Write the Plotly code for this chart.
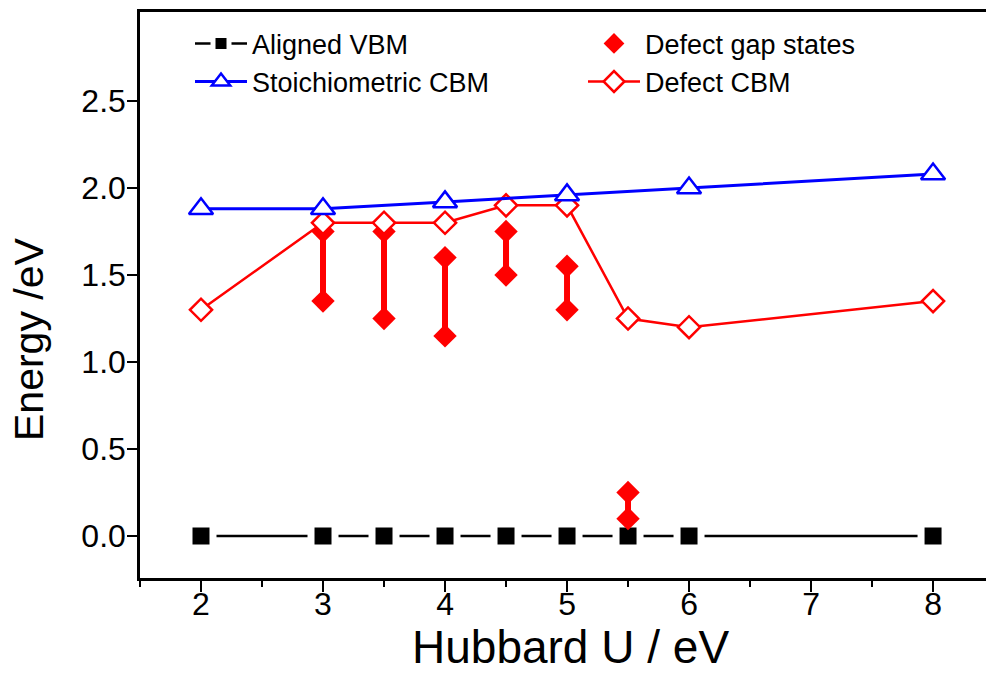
import plotly.graph_objects as go

# ---- data ----
vbm_x = [2, 3, 3.5, 4, 4.5, 5, 5.5, 6, 8]
vbm_y = [0, 0, 0, 0, 0, 0, 0, 0, 0]

stoich_x = [2, 3, 4, 5, 6, 8]
stoich_y = [1.88, 1.88, 1.92, 1.96, 2.0, 2.08]

dcbm_x = [2, 3, 3.5, 4, 4.5, 5, 5.5, 6, 8]
dcbm_y = [1.30, 1.80, 1.80, 1.80, 1.90, 1.90, 1.25, 1.20, 1.35]

gap_x = [3, 3.5, 4, 4.5, 5, 5.5]
gap_top = [1.75, 1.75, 1.60, 1.75, 1.55, 0.25]
gap_bottom = [1.35, 1.25, 1.15, 1.50, 1.30, 0.10]

x_ticks = [2, 3, 4, 5, 6, 7, 8]
y_ticks = [0.0, 0.5, 1.0, 1.5, 2.0, 2.5]

FONT = "Liberation Sans, Arial, sans-serif"

# bars connecting gap-state pairs
bar_x, bar_y = [], []
for xv, t, b in zip(gap_x, gap_top, gap_bottom):
    bar_x += [xv, xv, None]
    bar_y += [t, b, None]

gap_mx = gap_x + gap_x
gap_my = gap_top + gap_bottom

fig = go.Figure()

fig.add_trace(go.Scatter(
    x=vbm_x, y=vbm_y, mode="lines+markers", name="Aligned VBM",
    line=dict(color="black", width=2.5),
    marker=dict(symbol="square", size=24, color="black",
                line=dict(color="white", width=7)),
    legendrank=1))

fig.add_trace(go.Scatter(
    x=bar_x, y=bar_y, mode="lines", showlegend=False,
    line=dict(color="#ff0000", width=6), hoverinfo="skip"))

fig.add_trace(go.Scatter(
    x=gap_mx, y=gap_my, mode="markers", name="Defect gap states",
    marker=dict(symbol="diamond", size=18, color="#ff0000"),
    legendrank=2))

fig.add_trace(go.Scatter(
    x=dcbm_x, y=dcbm_y, mode="lines+markers", name="Defect CBM",
    line=dict(color="#ff0000", width=2.5),
    marker=dict(symbol="diamond", size=17, color="white",
                line=dict(color="#ff0000", width=2.5)),
    legendrank=4))

fig.add_trace(go.Scatter(
    x=stoich_x, y=stoich_y, mode="lines+markers", name="Stoichiometric CBM",
    line=dict(color="#0000ff", width=3),
    marker=dict(symbol="triangle-up", size=21, color="white",
                line=dict(color="#0000ff", width=2.5)),
    legendrank=3))

fig.update_layout(
    width=986, height=693,
    margin=dict(l=140, r=0, t=12, b=115),
    paper_bgcolor="white", plot_bgcolor="white",
    font=dict(family=FONT, color="black"),
    showlegend=True,
    legend=dict(orientation="h", x=50 / 846, y=0.987, xanchor="left", yanchor="top",
                font=dict(size=27, family=FONT), entrywidth=326, itemwidth=52,
                bgcolor="rgba(0,0,0,0)", traceorder="normal", tracegroupgap=0),
    xaxis=dict(range=[1.5, 8.434], tickvals=x_ticks, ticks="outside",
               ticklen=11, tickwidth=2, tickcolor="black",
               showline=True, linecolor="black", linewidth=2.5, mirror=True,
               showgrid=False, zeroline=False, ticklabelstandoff=-15,
               tickfont=dict(size=32, family=FONT),
               minor=dict(dtick=0.5, ticks="outside", ticklen=6, tickwidth=2,
                          tickcolor="black", showgrid=False)),
    yaxis=dict(range=[-0.241, 3.011], tickvals=y_ticks, ticktext=[f"{v:.1f}" for v in y_ticks],
               ticks="outside", ticklen=10, tickwidth=2, tickcolor="black",
               showline=True, linecolor="black", linewidth=2.5,
               showgrid=False, zeroline=False, ticklabelstandoff=-5,
               tickfont=dict(size=32, family=FONT)),
    annotations=[
        dict(text="Hubbard U / eV", xref="paper", yref="paper",
             x=(570 - 140) / 846, y=-(647 - 578) / 566, xanchor="center", yanchor="middle",
             showarrow=False, font=dict(size=46, family=FONT)),
        dict(text="Energy /eV", xref="paper", yref="paper",
             x=-(140 - 29) / 846, y=(578 - 340) / 566, xanchor="center", yanchor="middle",
             textangle=-90, showarrow=False, font=dict(size=41, family=FONT)),
    ],
)

fig.write_html("out.html", config={"displayModeBar": False},
               post_script="document.body.style.margin='0';document.body.style.overflow='hidden';")
